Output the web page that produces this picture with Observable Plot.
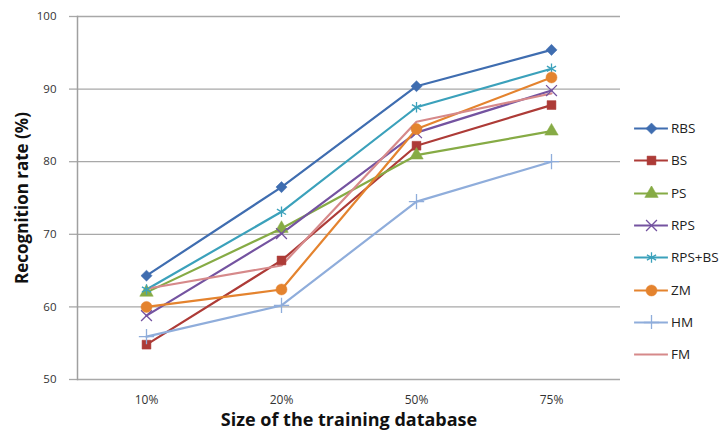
<!DOCTYPE html>
<html><head><meta charset="utf-8">
<script src="https://cdn.jsdelivr.net/npm/d3@7"></script>
<script src="https://cdn.jsdelivr.net/npm/@observablehq/plot@0.6"></script>
<style>
body{margin:0;background:#fff;font-family:"Open Sans",sans-serif}
#wrap{position:relative;width:726px;height:438px}
#legend{position:absolute;left:633px;top:112px}
.row{display:flex;align-items:center;height:32.3px;font-size:13.5px;color:#222}
.row svg{margin-right:2px}
</style></head>
<body><div id="wrap"><div id="chart"></div><div id="legend"></div></div>
<script>
const sizes = ["10%", "20%", "50%", "75%"];
const seriesNames = ["RBS", "BS", "PS", "RPS", "RPS+BS", "ZM", "HM", "FM"];
const RBS   = [64.3, 76.5, 90.4, 95.4];
const BS    = [54.8, 66.4, 82.2, 87.8];
const PS    = [62.0, 70.8, 80.9, 84.2];
const RPS   = [58.8, 70.1, 84.0, 89.8];
const RPSBS = [62.4, 73.1, 87.5, 92.8];
const ZM    = [60.0, 62.4, 84.5, 91.6];
const HM    = [55.9, 60.2, 74.5, 80.0];
const FM    = [62.5, 65.7, 85.5, 89.4];
const values = [RBS, BS, PS, RPS, RPSBS, ZM, HM, FM];
const colors = ["#3f6db0", "#ad3b37", "#86ab45", "#7453a0", "#3ba1bb", "#e4832e", "#8faddb", "#d6898a"];
const symbols = ["diamond2", "square", "triangle", "times", "asterisk", "circle", "plus", null];
const filled = [true, true, true, false, false, true, false, false];
const yTicks = [50, 60, 70, 80, 90, 100];

const rows = [];
seriesNames.forEach((s, i) => sizes.forEach((sz, j) => rows.push({series: s, size: sz, value: values[i][j]})));

const marks = [
  Plot.gridY(yTicks, {stroke: "#a8a8a8", strokeOpacity: 1, strokeWidth: 1.3}),
  Plot.axisY(yTicks, {tickSize: 8, tickPadding: 13, stroke: "#a8a8a8", strokeWidth: 1.3, fontSize: 11.5, fill: "#333", label: null}),
  Plot.axisX({tickSize: 0, tickPadding: 16, fontSize: 12, fill: "#333", label: null}),
  Plot.frame({anchor: "left", stroke: "#a0a0a0", strokeWidth: 1.5}),
  Plot.line(rows, {x: "size", y: "value", z: "series", stroke: "series", strokeWidth: 2.2})
];
seriesNames.forEach((s, i) => {
  if (!symbols[i]) return;
  const d = rows.filter(r => r.series === s);
  marks.push(Plot.dot(d, {
    x: "size", y: "value", symbol: () => symbols[i], r: symbols[i] === "circle" ? 5.5 : 5,
    fill: filled[i] ? colors[i] : "none", stroke: colors[i], strokeWidth: filled[i] ? 0.5 : 1.3
  }));
});
marks.push(
  Plot.text(["Recognition rate (%)"], {frameAnchor: "left", textAnchor: "middle", dx: -55, rotate: -90, fontSize: 17, fontWeight: "bold", fill: "#111"}),
  Plot.text(["Size of the training database"], {frameAnchor: "bottom", dy: 46, fontSize: 18, fontWeight: "bold", fill: "#111"})
);

const chart = Plot.plot({
  width: 726, height: 438,
  marginLeft: 77, marginRight: 106, marginTop: 16, marginBottom: 59,
  style: {fontFamily: "'Open Sans', sans-serif", background: "#fff"},
  x: {type: "point", domain: sizes, padding: 0.5},
  y: {domain: [50, 100]},
  color: {domain: seriesNames, range: colors},
  symbol: {domain: ["diamond2","square","triangle","times","asterisk","circle","plus"], range: ["diamond2","square","triangle","times","asterisk","circle","plus"]},
  marks
});
document.getElementById("chart").appendChild(chart);

// legend
const leg = document.getElementById("legend");
seriesNames.forEach((s, i) => {
  const row = document.createElement("div");
  row.className = "row";
  const sw = Plot.plot({
    width: 36, height: 14, margin: 0,
    x: {domain: [0, 1], axis: null}, y: {domain: [0, 1], axis: null},
    marks: [
      Plot.ruleY([0.5], {x1: 0.03, x2: 0.97, stroke: colors[i], strokeWidth: 2.2}),
      ...(symbols[i] ? [Plot.dot([0.5], {x: d => d, y: 0.5, symbol: () => symbols[i], r: symbols[i] === "circle" ? 5.5 : 5,
        fill: filled[i] ? colors[i] : "none", stroke: colors[i], strokeWidth: filled[i] ? 0.5 : 1.3})] : [])
    ]
  });
  row.appendChild(sw);
  const t = document.createElement("span");
  t.textContent = s;
  row.appendChild(t);
  leg.appendChild(row);
});
</script>
</body></html>
